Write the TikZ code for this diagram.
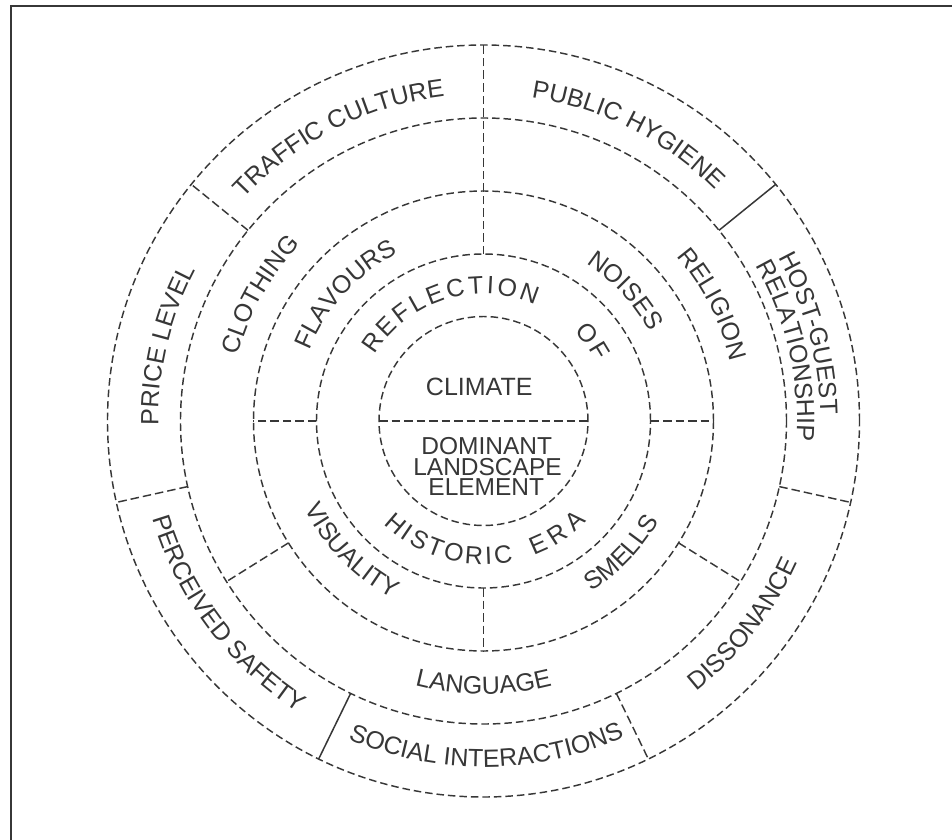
\documentclass[tikz,border=0pt]{standalone}
\usepackage{fontspec}
\setmainfont{Liberation Sans}
\usetikzlibrary{decorations.text}
\definecolor{ink}{RGB}{55,55,55}
\newcommand\lblfont{\fontsize{25pt}{30pt}\selectfont}
\newcommand\smlfont{\fontsize{24.5pt}{20.8pt}\selectfont}
\tikzset{
  ring/.style={draw=ink, line width=1.45pt, dash pattern=on 7.5pt off 4pt},
  divd/.style={draw=ink, line width=1.45pt, dash pattern=on 8.5pt off 4pt},
  divs/.style={draw=ink, line width=1.5pt},
  letter/.style={font=\lblfont, text=ink, inner sep=0pt},
  plain/.style={text=ink, inner sep=0pt, anchor=base},
}
% clockwise label: tops outward, baseline at radius #2, centred at angle #1
\newcommand\cwlabel[3]{%
  \path[decorate,decoration={text along path,text align=center,text color=ink,
     text={|\lblfont|#3}}]
    (#1+60:#2) arc[start angle=#1+60,end angle=#1-60,radius=#2];}
% counter-clockwise label: tops inward
\newcommand\ccwlabel[3]{%
  \path[decorate,decoration={text along path,text align=center,text color=ink,
     text={|\lblfont|#3}}]
    (#1-60:#2) arc[start angle=#1-60,end angle=#1+60,radius=#2];}
\begin{document}
\begin{tikzpicture}[x=1pt,y=1pt]
\useasboundingbox (-483.5,-418) rectangle (468.5,421);
\fill[white] (-483.5,-418) rectangle (468.5,421);
% frame (left and top edges visible)
\draw[draw=ink, line width=1.6pt] (-472.5,-430) -- (-472.5,415) -- (480,415);
% rings
\foreach \r in {376,303,230,167,104.5} \draw[ring] (0,0) circle[radius=\r];
% dividers
\draw[divd] (90:167) -- (90:376);
\foreach \a in {141,-12.5,-64,192.5} \draw[divd] (\a:303) -- (\a:376);
\foreach \a in {39,244} \draw[divs] (\a:303) -- (\a:376);
\foreach \a in {-32,212} \draw[divd] (\a:230) -- (\a:303);
\foreach \a in {0,180,270} \draw[divd] (\a:167) -- (\a:230);
\draw[divd] (180:104.5) -- (0:104.5);
% outer band
\cwlabel{117}{327}{TRAFFIC CULTURE}
\cwlabel{63.2}{327}{PUBLIC HYGIENE}
\cwlabel{166.5}{325}{PRICE LEVEL}
\cwlabel{15}{337}{HOST-GUEST}
\cwlabel{13}{313.5}{RELATIONSHIP}
\ccwlabel{-38}{344}{DISSONANCE}
\ccwlabel{270.5}{346}{SOCIAL INTERACTIONS}
\ccwlabel{217}{345}{PERCEIVED SAFETY}
% second band
\cwlabel{150.6}{254}{CLOTHING}
\cwlabel{27}{254}{RELIGION}
\ccwlabel{270}{273}{LANGUAGE}
% third band
\cwlabel{137.5}{188}{FLAVOURS}
\cwlabel{42.5}{188}{NOISES}
\ccwlabel{316.3}{202}{SMELLS}
\ccwlabel{224.5}{199}{VISUALITY}
% fourth band: REFLECTION OF HISTORIC ERA
\foreach \a/\c [count=\i] in {144.7/R,135.62/E,127.16/F,119.32/L,111.16/E,102.08/C,93.32/T,87.02/I,79.8/O,70.1/N,40.3/O,31.2/F}
  \node[letter, rotate=\a-90, anchor=base] (rf\i) at (\a:127) {\c};
\foreach \a/\c [count=\i] in {229.6/H,235.77/I,241.66/S,249.22/T,257.32/O,265.98/R,272.15/I,278.32/C,293.8/E,303.1/R,312.4/A}
  \node[letter, rotate=\a+90, anchor=base] (he\i) at (\a:143.5) {\c};
% centre
\node[plain, font=\lblfont] (climate) at (-4.3,26) {CLIMATE};
\node[plain, font=\smlfont] (dom) at (3.2,-33) {DOMINANT};
\node[plain, font=\smlfont] (land) at (4,-54) {LANDSCAPE};
\node[plain, font=\smlfont] (elem) at (2.8,-74.7) {ELEMENT};
\end{tikzpicture}
\end{document}
